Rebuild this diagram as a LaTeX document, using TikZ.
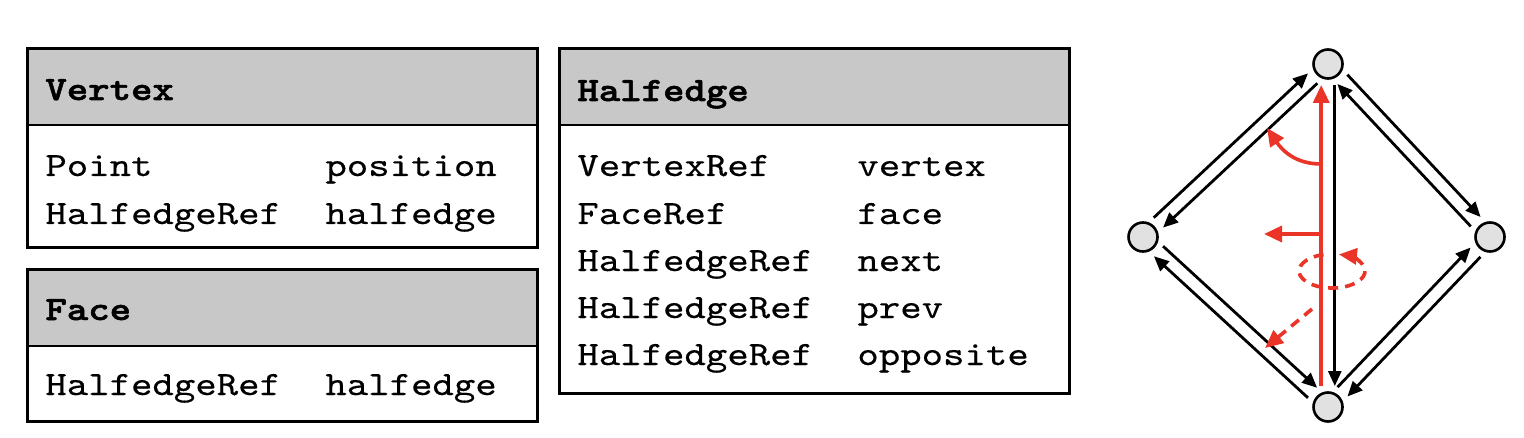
\documentclass[tikz,border=0pt]{standalone}
\usepackage{fontspec}
\newfontfamily\courlike{lmmono10-regular.otf}[FakeStretch=1.2, FakeBold=0.4, BoldFont=lmmonolt10-bold.otf, BoldFeatures={FakeStretch=1.2, FakeBold=1.6}]
\usetikzlibrary{arrows.meta,calc}
\definecolor{hered}{RGB}{234,52,40}
\definecolor{hdrgray}{RGB}{200,200,200}
\definecolor{vtxgray}{RGB}{225,225,225}
\tikzset{
  txt/.style={anchor=base west, inner sep=0pt, font=\courlike\fontsize{17}{20}\selectfont},
  hdr/.style={anchor=base west, inner sep=0pt, font=\courlike\bfseries\fontsize{17}{20}\selectfont},
  boxframe/.style={draw=black, line width=1.5pt},
  sepline/.style={draw=black, line width=0.9pt},
  vtx/.style={circle, draw=black, line width=1.3pt, fill=vtxgray, minimum size=14.5pt, inner sep=0pt},
  he/.style={draw=black, line width=1.4pt, -{Triangle[length=7.5pt,width=6.5pt]}},
  redhe/.style={draw=hered, line width=1.8pt, -{Triangle[length=9pt,width=8pt]}},
  reddash/.style={redhe, dash pattern=on 5pt off 3.5pt},
}
\newcommand\classbox[5]{%
  \fill[hdrgray] (#1,#2) rectangle (#3,#5);
  \draw[sepline] (#1,#5) -- (#3,#5);
  \draw[boxframe] (#1,#2) rectangle (#3,#4);}
\newcommand\hedge[3]{%
  \draw[#1] ($(#2)!10.5pt!(#3)!3.4pt!90:(#3)$) -- ($(#3)!10.5pt!(#2)!3.4pt!-90:(#2)$);}
\begin{document}
\begin{tikzpicture}[x=0.5pt,y=-0.5pt]
\useasboundingbox (0,0) rectangle (1524,438);
% class boxes
\classbox{27}{49}{537}{247}{125}
\classbox{27}{269}{537}{421}{346}
\classbox{559}{49}{1069}{393}{125}
% Vertex
\node[hdr] (vh) at (45,100) {Vertex};
\node[txt] (v1a) at (45,176) {Point};
\node[txt] (v1b) at (325,176) {position};
\node[txt] (v2a) at (45,224) {HalfedgeRef};
\node[txt] (v2b) at (325,224) {halfedge};
% Face
\node[hdr] (fh) at (45,320) {Face};
\node[txt] (f1a) at (45,395) {HalfedgeRef};
\node[txt] (f1b) at (325,395) {halfedge};
% Halfedge
\node[hdr] (hh) at (577,101) {Halfedge};
\node[txt] (h1a) at (577,176) {VertexRef};
\node[txt] (h1b) at (857,176) {vertex};
\node[txt] (h2a) at (577,224) {FaceRef};
\node[txt] (h2b) at (857,224) {face};
\node[txt] (h3a) at (577,271) {HalfedgeRef};
\node[txt] (h3b) at (857,271) {next};
\node[txt] (h4a) at (577,318) {HalfedgeRef};
\node[txt] (h4b) at (857,318) {prev};
\node[txt] (h5a) at (577,365) {HalfedgeRef};
\node[txt] (h5b) at (857,365) {opposite};
% mesh
\node[vtx] (T) at (1328,64) {};
\node[vtx] (L) at (1143,237) {};
\node[vtx] (R) at (1490,237) {};
\node[vtx] (B) at (1328,407) {};
\hedge{he}{L}{T}
\hedge{he}{T}{L}
\hedge{he}{T}{R}
\hedge{he}{R}{T}
\hedge{he}{L}{B}
\hedge{he}{B}{L}
\hedge{he}{B}{R}
\hedge{he}{R}{B}
\hedge{he}{T}{B}
\hedge{redhe}{B}{T}
% pointers of the red halfedge
\coordinate (nx) at (1321,164);
\coordinate (nxe) at (1267,128);
\coordinate (fc) at (1321,234);
\coordinate (fce) at (1264,234);
\coordinate (pv) at (1312,309);
\coordinate (pve) at (1265,348);
\draw[redhe] (nx) .. controls (1295,164) and (1282,150) .. (nxe);
\draw[redhe] (fc) -- (fce);
\draw[reddash] (pv) -- (pve);
\draw[reddash] (1323.5,254.6) arc[start angle=-105, end angle=-438, x radius=33, y radius=17];
\end{tikzpicture}
\end{document}
